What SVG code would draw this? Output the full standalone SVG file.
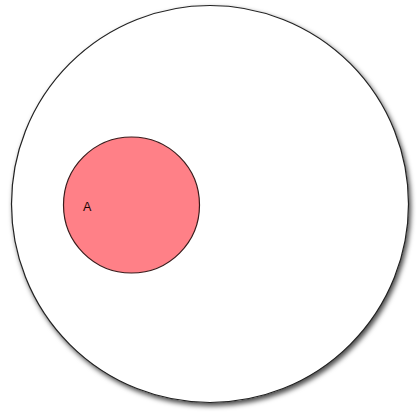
<svg xmlns="http://www.w3.org/2000/svg" width="417" height="412" viewBox="0 0 417 412">
<style>
.outer{fill:#ffffff;stroke:#222;stroke-width:1.2}
.inner{fill:#ff8087;stroke:#3a1a1a;stroke-width:1.2}
.lbl{font-family:"Liberation Sans",Arial,sans-serif;font-size:12.5px;fill:#1a0505}
</style>
<defs>
<filter id="sh" x="-10%" y="-10%" width="125%" height="125%">
<feDropShadow dx="2" dy="3" stdDeviation="2.5" flood-color="#000" flood-opacity="0.7"/>
</filter>
</defs>
<rect width="417" height="412" fill="#fff"/>
<g id="outer"><circle class="outer" cx="210" cy="204" r="198.5" filter="url(#sh)"/></g>
<g id="A">
<circle class="inner" cx="131.5" cy="205" r="68"/>
<text class="lbl" x="83" y="211">A</text>
</g>
<g id="connectors"/>
</svg>
